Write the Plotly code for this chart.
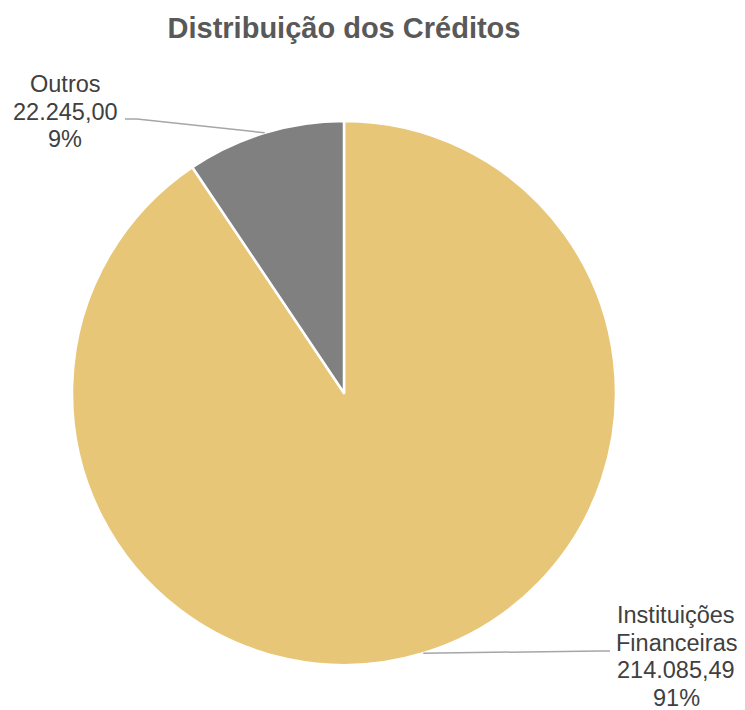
import math
import plotly.graph_objects as go

# ---- data ----
categories = ["Instituições Financeiras", "Outros"]
values = [214085.49, 22245.00]
value_labels = ["214.085,49", "22.245,00"]
colors = ["#E8C677", "#808080"]

W, H = 745, 710
# pie geometry in pixels
cx, cy, r = 344, 393, 272

def px(x):
    return x / W

def py(y):
    return 1 - y / H

fig = go.Figure()
fig.add_trace(go.Pie(
    labels=categories,
    values=values,
    sort=False,
    direction="clockwise",
    rotation=0,
    marker=dict(colors=colors, line=dict(color="white", width=2.5)),
    textinfo="none",
    hoverinfo="label+value+percent",
    showlegend=False,
    domain=dict(x=[px(cx - r), px(cx + r)], y=[py(cy + r), py(cy - r)]),
))

total = sum(values)
pcts = [f"{round(v / total * 100)}%" for v in values]

# label layout: center x, first line center y, leader line start + elbow
label_layout = [
    dict(x=676, y0=615, start=(610, 651), elbow=(600, 651)),
    dict(x=65, y0=84, start=(125, 119), elbow=(137, 119)),
]
line_step = 27.5

annotations = []
shapes = []
cum = 0.0
for i, cat in enumerate(categories):
    frac = values[i] / total
    mid = (cum + frac / 2) * 2 * math.pi
    cum += frac
    ex = cx + r * math.sin(mid)
    ey = cy - r * math.cos(mid)
    lay = label_layout[i]
    lines = cat.split(" ") + [value_labels[i], pcts[i]]
    for k, t in enumerate(lines):
        annotations.append(dict(
            x=px(lay["x"]), y=py(lay["y0"] + k * line_step),
            xref="paper", yref="paper", text=t, showarrow=False,
            xanchor="center", yanchor="middle",
            font=dict(family="Liberation Sans, Arial, sans-serif", size=23.5, color="#404040"),
        ))
    (sx, sy), (bx, by) = lay["start"], lay["elbow"]
    for (x0, y0, x1, y1) in [(sx, sy, bx, by), (bx, by, ex, ey)]:
        shapes.append(dict(
            type="line", xref="paper", yref="paper",
            x0=px(x0), y0=py(y0), x1=px(x1), y1=py(y1),
            line=dict(color="#A6A6A6", width=1.5),
        ))

fig.update_layout(
    width=W, height=H,
    margin=dict(l=0, r=0, t=0, b=0),
    paper_bgcolor="white",
    plot_bgcolor="white",
    title=dict(
        text="<b>Distribuição dos Créditos</b>",
        x=344 / W, xanchor="center", y=py(28), yanchor="middle",
        font=dict(family="Liberation Sans, Arial, sans-serif", size=29, color="#595959"),
    ),
    annotations=annotations,
    shapes=shapes,
)

fig.write_html(
    "out.html",
    config={"displayModeBar": False},
    post_script="document.body.style.margin='0';document.body.style.overflow='hidden';",
)
